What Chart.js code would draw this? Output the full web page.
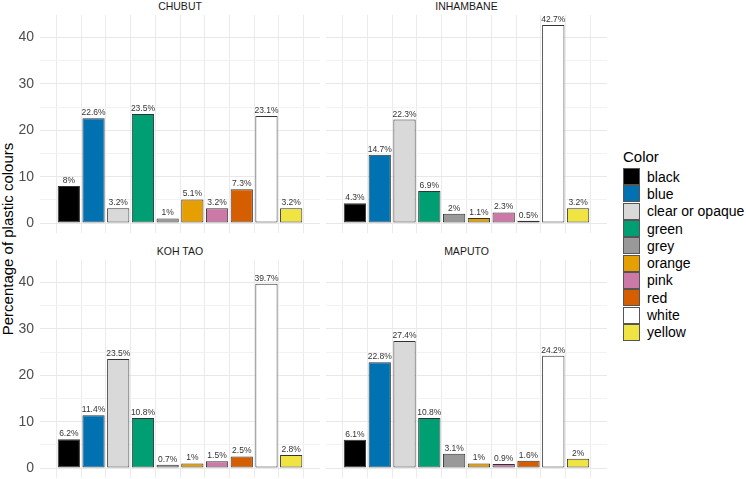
<!DOCTYPE html>
<html><head><meta charset="utf-8">
<script src="https://cdn.jsdelivr.net/npm/chart.js@4/dist/chart.umd.min.js"></script>
<style>
html,body{margin:0;padding:0;background:#fff;}
body{width:746px;height:479px;position:relative;overflow:hidden;font-family:"Liberation Sans",Arial,sans-serif;}
canvas{position:absolute;}
.strip{position:absolute;font-size:10.5px;color:#1a1a1a;text-align:center;line-height:12px;}
#ytitle{position:absolute;left:7px;top:239px;transform:translate(-50%,-50%) rotate(-90deg);font-size:15px;color:#000;white-space:nowrap;}
#legend{position:absolute;left:623px;top:148px;}
#legend .ttl{font-size:15px;color:#000;height:20px;line-height:18px;}
#legend .row{height:17.3px;display:flex;align-items:center;font-size:14px;color:#000;}
#legend .sw{width:15px;height:15px;border:1px solid #555;margin-right:7px;box-sizing:content-box;}
</style></head>
<body>
<div id="ytitle">Percentage of plastic colours</div>
<div id="legend"></div>
<script>
const categories = ["black","blue","clear or opaque","green","grey","orange","pink","red","white","yellow"];
const fillColors = ["#000000","#0072B2","#D9D9D9","#009E73","#999999","#E69F00","#CC79A7","#D55E00","#FFFFFF","#F0E442"];
const sites = ["CHUBUT","INHAMBANE","KOH TAO","MAPUTO"];
const chubut    = [8, 22.6, 3.2, 23.5, 1, 5.1, 3.2, 7.3, 23.1, 3.2];
const inhambane = [4.3, 14.7, 22.3, 6.9, 2, 1.1, 2.3, 0.5, 42.7, 3.2];
const kohTao    = [6.2, 11.4, 23.5, 10.8, 0.7, 1, 1.5, 2.5, 39.7, 2.8];
const maputo    = [6.1, 22.8, 27.4, 10.8, 3.1, 1, 0.9, 1.6, 24.2, 2];
const yTicks = [0, 10, 20, 30, 40];
const yGrid = [0, 5, 10, 15, 20, 25, 30, 35, 40];
const seriesBySite = [chubut, inhambane, kohTao, maputo];

const allVals = seriesBySite.flat();
const yMaxData = Math.max(...allVals);
const yMin = -0.05 * yMaxData, yMax = yMaxData * 1.05;

// legend
const lg = document.getElementById('legend');
lg.innerHTML = '<div class="ttl">Color</div>' + categories.map((c,i)=>
  `<div class="row"><div class="sw" style="background:${fillColors[i]}"></div>${c}</div>`).join('');

const labelPlugin = {
  id:'barLabels',
  afterDatasetsDraw(chart){
    const ctx = chart.ctx;
    const meta = chart.getDatasetMeta(0);
    const vals = chart.data.datasets[0].raw;
    ctx.save();
    ctx.font = '8.5px "Liberation Sans", Arial, sans-serif';
    ctx.fillStyle = '#333333';
    ctx.textAlign = 'center';
    ctx.textBaseline = 'alphabetic';
    meta.data.forEach((el,i)=>{
      ctx.fillText(String(vals[i]) + '%', el.x, el.y - 3);
    });
    ctx.restore();
  }
};

// panel geometry
const panels = [
  {left:12, top:15, w:308, h:218, yw:28, showY:true},
  {left:326, top:15, w:281, h:218, yw:0, showY:false},
  {left:12, top:260, w:308, h:218, yw:28, showY:true},
  {left:326, top:260, w:281, h:218, yw:0, showY:false}
];

panels.forEach((p,k)=>{
  const cv = document.createElement('canvas');
  cv.width = p.w; cv.height = p.h;
  cv.style.left = p.left+'px'; cv.style.top = p.top+'px';
  cv.style.width = p.w+'px'; cv.style.height = p.h+'px';
  document.body.appendChild(cv);
  const st = document.createElement('div');
  st.className = 'strip';
  st.textContent = sites[k];
  st.style.left = (p.left + p.yw)+'px';
  st.style.width = (p.w - p.yw)+'px';
  st.style.top = (p.top - 15)+'px';
  document.body.appendChild(st);

  const vals = seriesBySite[k];
  new Chart(cv, {
    type:'bar',
    data:{
      datasets:[{
        label: sites[k],
        raw: vals,
        data: vals.map((v,i)=>({x:i+1, y:v})),
        backgroundColor: fillColors,
        borderColor: '#333333',
        borderWidth: 1,
        borderSkipped: false,
        categoryPercentage: 1,
        barPercentage: 0.9
      }]
    },
    options:{
      responsive:false,
      animation:false,
      devicePixelRatio:1,
      layout:{padding:0},
      plugins:{legend:{display:false}, tooltip:{enabled:false}, title:{display:false}},
      scales:{
        x:{
          type:'linear', min:0.4, max:10.6,
          afterBuildTicks(s){ s.ticks = categories.map((c,i)=>({value:i+1})); },
          afterFit(s){ s.height = 0; s.paddingLeft = 0; s.paddingRight = 0; s.paddingTop = 0; s.paddingBottom = 0; },
          ticks:{display:false},
          grid:{color:'#EBEBEB', lineWidth:1, drawTicks:false},
          border:{display:false}
        },
        y:{
          min:yMin, max:yMax,
          afterBuildTicks(s){ s.ticks = yGrid.map(v=>({value:v})); },
          afterFit(s){ s.width = p.yw; s.paddingTop = 0; s.paddingBottom = 0; s.paddingLeft = 0; s.paddingRight = 0; },
          ticks:{
            display:p.showY, padding:6, color:'#4D4D4D',
            font:{size:14, family:'"Liberation Sans", Arial, sans-serif'},
            callback:(v)=> yTicks.includes(v) ? String(v) : ''
          },
          grid:{
            drawTicks:false,
            color:(c)=> yTicks.includes(c.tick && c.tick.value) ? '#E8E8E8' : '#F2F2F2',
            lineWidth:1
          },
          border:{display:false}
        }
      }
    },
    plugins:[labelPlugin]
  });
});
</script>
</body></html>
